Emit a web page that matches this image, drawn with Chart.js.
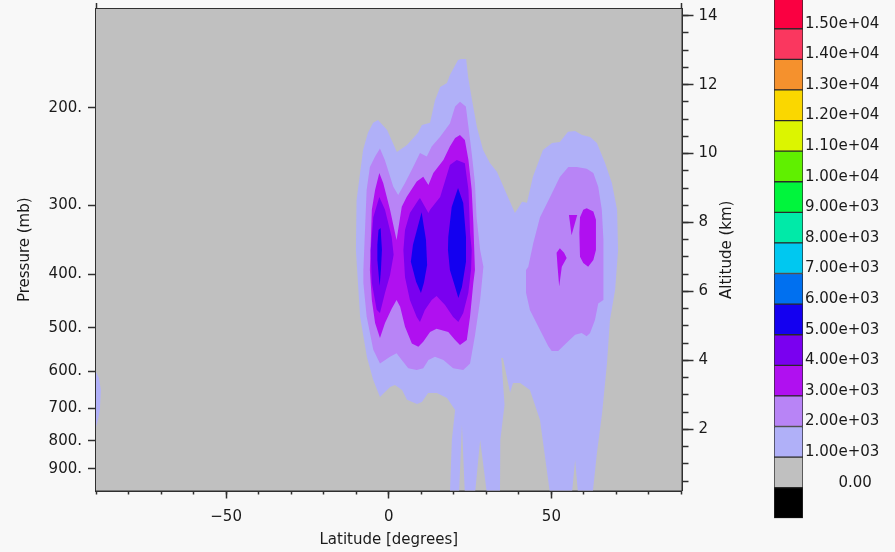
<!DOCTYPE html>
<html>
<head>
<meta charset="utf-8">
<script src="https://cdn.jsdelivr.net/npm/chart.js@4.4.0/dist/chart.umd.min.js"></script>
<style>
  html, body { margin: 0; padding: 0; background: #f8f8f8; }
  #wrap { position: relative; width: 895px; height: 552px; }
  #plot { position: absolute; left: 0; top: 0; }
  #bar { position: absolute; left: 760px; top: 0; }
</style>
</head>
<body>
<div id="wrap">
  <canvas id="plot" width="760" height="552"></canvas>
  <canvas id="bar" width="135" height="552"></canvas>
</div>
<script>
// axis ticks
const latTicks = [-50, 0, 50];
const latMinor = [-90, -80, -70, -60, -50, -40, -30, -20, -10, 0, 10, 20, 30, 40, 50, 60, 70, 80, 90];
const pressureTicks = [200, 300, 400, 500, 600, 700, 800, 900];
const altTicks = [2, 4, 6, 8, 10, 12, 14];
const altMinor = [0.5, 1, 1.5, 2, 2.5, 3, 3.5, 4, 4.5, 5, 5.5, 6, 6.5, 7, 7.5, 8, 8.5, 9, 9.5, 10, 10.5, 11, 11.5, 12, 12.5, 13, 13.5, 14];

// colour bar, bottom to top
const barLabels = ['       0.00', '1.00e+03', '2.00e+03', '3.00e+03', '4.00e+03', '5.00e+03', '6.00e+03', '7.00e+03',
  '8.00e+03', '9.00e+03', '1.00e+04', '1.10e+04', '1.20e+04', '1.30e+04', '1.40e+04', '1.50e+04'];
const barColors = ['#000000', '#c0c0c0', '#b0b0f8', '#b884f6', '#b010f0', '#7a00f0', '#1400f0', '#0070f0', '#00c8f0',
  '#00eaa8', '#00f53c', '#60f000', '#dcf500', '#fad700', '#f5912d', '#fa375f', '#fa0041'];

// contour regions as [latitude, pressure] outlines
const plotFrame = [[-95, 120], [95, 120], [95, 1100], [-95, 1100]];
const lev1Main = [[-2.7,667],[-4.8,621],[-6.7,565],[-8.8,478],[-10.1,362],[-9.9,294],[-7.9,238.5],[-6.4,222],[-4.8,213],[-3.3,210.5],
  [-0.5,219.5],[2.5,240.5],[5.6,233.6],[9.0,222],[10.2,215],[12.7,213],[14.2,194],[15.8,183.5],[17.9,180.5],[18.8,174.5],
  [21.3,164],[22.2,163.3],[23.8,163.3],[24.4,176],[25.6,193.7],[27.1,216.7],[29.0,238.5],[31.1,251.8],[33.3,261.4],[35.7,281.7],
  [38.8,310],[41.0,296],[42.5,297],[44.3,267],[47.4,238.5],[50.2,231.7],[52.6,230.7],[55.1,221],[57.3,220.4],[59.4,224],
  [61.9,226],[64.0,231.7],[66.5,251.8],[68.6,273.6],[70.2,306],[70.5,362],[69.6,427],[68.0,484],[67.1,579],[65.6,713],
  [64.0,842],[62.8,982],[62.7,1000],[58.2,1000],[57.3,867],[56.3,1000],[49.6,1000],[46.5,734],[43.4,648],[40.4,629],
  [38.2,629],[37.3,655],[35.1,567],[34.6,567],[35.6,689],[34.3,798],[34.2,1000],[30.2,1000],[28.1,798],[26.5,1000],
  [23.4,1000],[22.5,749],[21.6,1000],[18.8,1000],[19.4,798],[20.4,704],[17.9,670],[14.8,656],[12.1,656],[10.2,681],
  [8.7,687],[5.6,675],[4.1,648],[1.9,634.5],[0.4,640]];
const lev1Edge = [[-91,598],[-90,601],[-89.1,616],[-88.5,648],[-88.8,704],[-89.4,734],[-90,756],[-91,760]];
const lev2Main = [[-7.8,393],[-6.8,281.7],[-5.8,256],[-4.2,245],[-2.7,237],[-1.2,248.6],[1.4,278],[2.9,287.7],[5.0,273.6],[7.5,256],
  [9.6,241.5],[11.7,245],[13.2,235],[15.8,225.7],[18.8,213.5],[20.4,199],[21.9,195],[23.7,199],[24.5,216.5],[25.5,241.5],
  [26.5,273.6],[27.0,315.5],[28.1,361.7],[29.1,388],[28.1,445.4],[26.5,517],[25.0,580],[22.9,596],[19.8,592],[16.8,572],
  [14.2,564],[12.2,572],[10.6,592],[8.6,596],[6.0,592],[4.0,572],[2.4,556],[0.4,564],[-2.7,580],[-4.75,548],[-6.8,477],[-7.8,415]];
const lev2Right = [[57.8,256],[60.85,258],[62.9,262.5],[64.4,278],[65.5,306],[66.0,347],[66.0,445.4],[64.4,452],[63.4,484],[61.9,511],
  [60.85,518],[59.3,511],[57.3,514.5],[54.7,532],[52.1,551],[50.1,551],[49.05,540],[46.5,504.6],[43.4,464.3],[42.2,432],
  [42.2,393],[42.9,388],[44.4,352],[46.5,315.5],[49.6,290],[52.6,267],[55.2,256]];
const lev3Main = [[-5.8,393],[-5.2,306],[-4.2,281.7],[-2.9,262.5],[-1.7,273.6],[0.4,306],[2.4,347],[4.0,302],[5.5,290],[8.6,272],
  [10.6,266.5],[12.2,276],[13.7,262.5],[16.8,248.6],[18.8,235],[20.4,227],[21.9,224],[23.4,228.8],[24.5,248.6],[25.5,281.7],
  [26.0,323],[26.5,393],[26.0,415],[25.0,477],[24.0,526],[21.9,537],[20.4,526],[18.3,508.8],[14.7,502],[12.7,509],
  [10.6,530],[9.1,541],[7.1,534],[5.0,498],[3.5,458],[2.4,445.4],[0.9,462],[-1.15,490],[-2.7,522],[-4.2,490],[-5.2,445.4]];
const lev3RightA = [[59.8,306],[60.85,304],[62.9,308],[63.7,319],[63.7,361.7],[62.9,377],[61.3,388],[59.8,382],[58.8,372],[58.6,337],[58.8,315.5]];
const lev3RightB = [[55.4,312.6],[57.95,312.6],[56.2,340]];
const lev3RightC = [[52.6,359],[53.9,366],[54.7,374],[53.2,388],[52.4,421],[51.9,388],[51.6,366]];
const lev4Left = [[-2.9,290],[-1.15,306],[0.9,342.6],[1.5,369],[0.4,401.4],[-1.15,432],[-2.7,470],[-3.7,464],[-5.2,415],[-5.55,362],[-4.75,315.5]];
const lev4Mid = [[9.1,293.7],[9.6,291.3],[12.2,310],[12.7,306],[15.8,290],[18.8,254],[20.9,248.6],[23.4,252],[24.5,281.7],[25.0,337],
  [25.5,361.7],[25.3,393],[24.45,432.6],[22.9,470],[21.4,488],[19.8,478],[17.3,454.7],[14.7,438],[13.2,445.4],[11.1,464.3],
  [9.6,488],[8.6,478],[6.5,445.4],[5.0,405],[4.5,361.7],[5.0,332.8],[6.5,310]];
const lev5Left = [[-3.15,332.8],[-2.5,330],[-2.1,361.7],[-2.4,393],[-2.8,420],[-3.5,377],[-3.5,354]];
const lev5Mid = [[10.1,309],[11.45,347],[11.8,385],[10.8,415],[9.9,432.6],[8.4,413],[6.8,380],[7.45,354]];
const lev5Right = [[21.3,279.4],[22.9,297.4],[23.75,342.6],[23.75,380],[22.5,422],[21.4,441.7],[20.4,422],[18.8,393],[18.2,361.7],[18.3,342.6],[19.35,302.4]];

// [outline, contour level] from lowest to highest
const shapes = [
  [plotFrame, 0], [lev1Main, 1], [lev1Edge, 1], [lev2Main, 2], [lev2Right, 2],
  [lev3Main, 3], [lev3RightA, 3], [lev3RightB, 3], [lev3RightC, 3],
  [lev4Left, 4], [lev4Mid, 4], [lev5Left, 5], [lev5Mid, 5], [lev5Right, 5]
];

const AXIS = '#303030';
const TEXT = '#1a1a1a';
Chart.defaults.font.family = '"DejaVu Sans", sans-serif';
Chart.defaults.font.size = 15;
Chart.defaults.color = TEXT;

const noPad = s => { s.paddingLeft = 0; s.paddingRight = 0; s.paddingTop = 0; s.paddingBottom = 0; };
const setTicks = list => s => { s.ticks = list.map(v => ({ value: v })); };

const altTitle = {
  id: 'altTitle',
  afterDraw(chart) {
    const s = chart.scales.yAlt;
    const area = chart.chartArea;
    const ctx = chart.ctx;
    ctx.save();
    ctx.translate(s.left + 46, (area.top + area.bottom) / 2);
    ctx.rotate(-Math.PI / 2);
    ctx.textAlign = 'center';
    ctx.textBaseline = 'middle';
    ctx.font = '15px "DejaVu Sans"';
    ctx.fillStyle = TEXT;
    ctx.fillText('Altitude (km)', 0, 0);
    ctx.restore();
  }
};

new Chart(document.getElementById('plot'), {
  type: 'line',
  data: {
    datasets: shapes.map(([pts, lev], i) => ({
      data: pts.map(([lat, p]) => ({ x: lat, y: p })),
      backgroundColor: barColors[lev + 1],
      borderWidth: 0,
      pointRadius: 0,
      pointHitRadius: 0,
      tension: 0,
      fill: 'shape',
      order: shapes.length - i
    }))
  },
  options: {
    responsive: false,
    animation: false,
    plugins: { legend: { display: false }, tooltip: { enabled: false } },
    scales: {
      x: {
        type: 'linear', position: 'bottom', weight: 1, min: -90, max: 90,
        afterBuildTicks: setTicks(latTicks),
        afterFit: s => { s.height = 61.5; noPad(s); },
        ticks: { padding: 10, autoSkip: false, maxRotation: 0,
          callback: v => v < 0 ? '\u2212' + (-v) : String(v) },
        grid: { drawOnChartArea: false, tickLength: 8, tickColor: AXIS, tickWidth: 1.5 },
        border: { color: AXIS, width: 2 },
        title: { display: true, text: 'Latitude [degrees]', padding: { top: 0, bottom: 3 } }
      },
      xMinor: {
        type: 'linear', position: 'bottom', weight: 0, min: -90, max: 90,
        afterBuildTicks: setTicks(latMinor),
        afterFit: s => { s.height = 0; noPad(s); },
        ticks: { display: false },
        grid: { drawOnChartArea: false, tickLength: 4, tickColor: AXIS, tickWidth: 1.5 },
        border: { display: false }
      },
      xTop: {
        type: 'linear', position: 'top', min: -90, max: 90,
        afterBuildTicks: setTicks([-90, 90]),
        afterFit: s => { s.height = 9; noPad(s); },
        ticks: { display: false },
        grid: { drawOnChartArea: false, tickLength: 6, tickColor: AXIS, tickWidth: 1.5 },
        border: { color: AXIS, width: 2 }
      },
      y: {
        type: 'logarithmic', position: 'left', reverse: true, min: 132.6, max: 984.5, weight: 1,
        afterBuildTicks: setTicks(pressureTicks),
        afterFit: s => { s.width = 96; noPad(s); },
        ticks: { padding: 6, autoSkip: false, callback: v => v + '.' },
        grid: { drawOnChartArea: false, tickLength: 8, tickColor: AXIS, tickWidth: 1.5 },
        border: { color: AXIS, width: 2 },
        title: { display: true, text: 'Pressure (mb)', padding: { top: 16, bottom: 0 } }
      },
      yAlt: {
        type: 'linear', position: 'right', min: 0.2245, max: 14.194, weight: 1,
        afterBuildTicks: setTicks(altTicks),
        afterFit: s => { s.width = 78.5; noPad(s); },
        ticks: { padding: 5, autoSkip: false },
        grid: { drawOnChartArea: false, tickLength: 12, tickColor: AXIS, tickWidth: 1.5 },
        border: { color: AXIS, width: 2 }
      },
      yAltMinor: {
        type: 'linear', position: 'right', min: 0.2245, max: 14.194, weight: 0,
        afterBuildTicks: setTicks(altMinor),
        afterFit: s => { s.width = 0; noPad(s); },
        ticks: { display: false },
        grid: { drawOnChartArea: false, tickLength: 7, tickColor: AXIS, tickWidth: 1.5 },
        border: { display: false }
      }
    }
  },
  plugins: [altTitle]
});

new Chart(document.getElementById('bar'), {
  type: 'bar',
  data: {
    labels: [''],
    datasets: barColors.map(c => ({
      data: [1], backgroundColor: c, borderColor: '#2a2a2a', borderWidth: 1,
      borderSkipped: false, barPercentage: 1, categoryPercentage: 1
    }))
  },
  options: {
    responsive: false,
    animation: false,
    layout: { padding: { left: 14, top: 0, right: 0, bottom: 33.7 } },
    plugins: { legend: { display: false }, tooltip: { enabled: false } },
    scales: {
      x: { display: false, stacked: true },
      y: {
        stacked: true, position: 'right', min: 0, max: 16.94,
        afterBuildTicks: s => { s.ticks = barLabels.map((_, i) => ({ value: i + 1 })); },
        afterFit: s => { s.width = 92; noPad(s); },
        ticks: { padding: 2, labelOffset: -5, autoSkip: false, callback: v => barLabels[v - 1] },
        grid: { display: false, drawTicks: false },
        border: { display: false }
      }
    }
  }
});
</script>
</body>
</html>
